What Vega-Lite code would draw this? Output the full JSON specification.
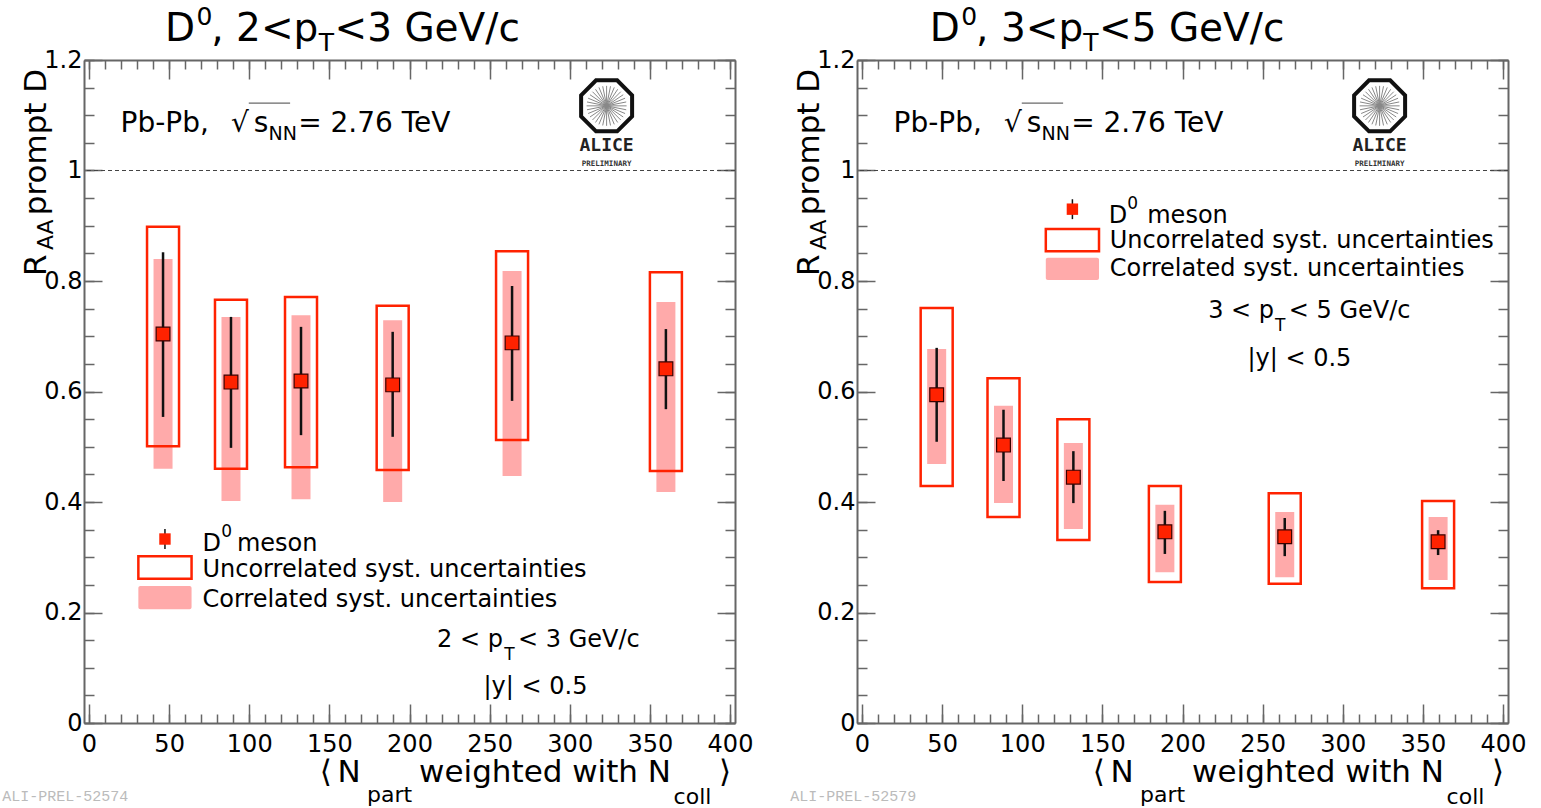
{
  "$schema": "https://vega.github.io/schema/vega-lite/v6.json",
  "background": "white",
  "padding": {"left": 2, "top": 5, "right": 0, "bottom": 0},
  "config": {"view": {"stroke": null}, "font": "DejaVu Sans"},
  "datasets": {
    "L_pts": [
      {"npart": 46.2, "raa": 0.704, "stat_lo": 0.554, "stat_hi": 0.852, "unc_lo": 0.501, "unc_hi": 0.898, "cor_lo": 0.460, "cor_hi": 0.840},
      {"npart": 88.6, "raa": 0.617, "stat_lo": 0.498, "stat_hi": 0.735, "unc_lo": 0.460, "unc_hi": 0.766, "cor_lo": 0.402, "cor_hi": 0.735},
      {"npart": 132.3, "raa": 0.619, "stat_lo": 0.521, "stat_hi": 0.717, "unc_lo": 0.463, "unc_hi": 0.771, "cor_lo": 0.405, "cor_hi": 0.738},
      {"npart": 189.5, "raa": 0.612, "stat_lo": 0.518, "stat_hi": 0.708, "unc_lo": 0.458, "unc_hi": 0.755, "cor_lo": 0.400, "cor_hi": 0.729},
      {"npart": 264.0, "raa": 0.688, "stat_lo": 0.583, "stat_hi": 0.791, "unc_lo": 0.512, "unc_hi": 0.854, "cor_lo": 0.447, "cor_hi": 0.818},
      {"npart": 360.0, "raa": 0.641, "stat_lo": 0.568, "stat_hi": 0.713, "unc_lo": 0.456, "unc_hi": 0.816, "cor_lo": 0.418, "cor_hi": 0.762}
    ],
    "R_pts": [
      {"npart": 46.6, "raa": 0.594, "stat_lo": 0.509, "stat_hi": 0.679, "unc_lo": 0.429, "unc_hi": 0.751, "cor_lo": 0.469, "cor_hi": 0.677},
      {"npart": 88.3, "raa": 0.503, "stat_lo": 0.438, "stat_hi": 0.567, "unc_lo": 0.373, "unc_hi": 0.624, "cor_lo": 0.398, "cor_hi": 0.574},
      {"npart": 131.9, "raa": 0.445, "stat_lo": 0.398, "stat_hi": 0.492, "unc_lo": 0.331, "unc_hi": 0.550, "cor_lo": 0.351, "cor_hi": 0.507},
      {"npart": 189.0, "raa": 0.346, "stat_lo": 0.306, "stat_hi": 0.384, "unc_lo": 0.255, "unc_hi": 0.429, "cor_lo": 0.273, "cor_hi": 0.395},
      {"npart": 263.8, "raa": 0.337, "stat_lo": 0.302, "stat_hi": 0.371, "unc_lo": 0.252, "unc_hi": 0.416, "cor_lo": 0.264, "cor_hi": 0.382},
      {"npart": 359.5, "raa": 0.328, "stat_lo": 0.304, "stat_hi": 0.349, "unc_lo": 0.244, "unc_hi": 0.402, "cor_lo": 0.259, "cor_hi": 0.373}
    ],
    "pb": [
      {"t": "Pb-Pb, ", "x": 19.7, "y": 1.070},
      {"t": "√", "x": 88.6, "y": 1.070},
      {"t": "s", "x": 102.8, "y": 1.070},
      {"t": "= 2.76 TeV", "x": 130.5, "y": 1.070}
    ],
    "pbs": [
      {"t": "NN", "x": 112, "y": 1.055}
    ],
    "over": [{"x1": 99.7, "x2": 125.5, "y": 1.122}],
    "L_txt": [
      {"t": "D", "x": 70.8, "y": 0.311},
      {"t": "meson", "x": 92.3, "y": 0.311},
      {"t": "Uncorrelated syst. uncertainties", "x": 70.8, "y": 0.264},
      {"t": "Correlated syst. uncertainties", "x": 70.8, "y": 0.210},
      {"t": "2 < p", "x": 217.2, "y": 0.1376},
      {"t": "< 3 GeV/c", "x": 267.7, "y": 0.1376},
      {"t": "|y| < 0.5", "x": 246.2, "y": 0.0525}
    ],
    "R_txt": [
      {"t": "D", "x": 154.0, "y": 0.905},
      {"t": "meson", "x": 178.0, "y": 0.905},
      {"t": "Uncorrelated syst. uncertainties", "x": 154.6, "y": 0.860},
      {"t": "Correlated syst. uncertainties", "x": 154.6, "y": 0.809},
      {"t": "3 < p", "x": 216.0, "y": 0.733},
      {"t": "< 5 GeV/c", "x": 266.3, "y": 0.733},
      {"t": "|y| < 0.5", "x": 240.5, "y": 0.646}
    ],
    "L_sml": [
      {"t": "0", "x": 82.5, "y": 0.337},
      {"t": "T", "x": 259.1, "y": 0.114}
    ],
    "R_sml": [
      {"t": "0", "x": 165.6, "y": 0.930},
      {"t": "T", "x": 257.7, "y": 0.7095}
    ],
    "L_ttl": [
      {"t": "D", "x": 47.4, "y": 1.234},
      {"t": ", 2<p", "x": 76.3, "y": 1.234},
      {"t": "<3 GeV/c", "x": 153.2, "y": 1.234}
    ],
    "R_ttl": [
      {"t": "D", "x": 42.3, "y": 1.234},
      {"t": ", 3<p", "x": 71.2, "y": 1.234},
      {"t": "<5 GeV/c", "x": 147.9, "y": 1.234}
    ],
    "L_tts": [
      {"t": "0", "x": 67.1, "y": 1.263},
      {"t": "T", "x": 143.4, "y": 1.216}
    ],
    "R_tts": [
      {"t": "0", "x": 62.0, "y": 1.263},
      {"t": "T", "x": 138.0, "y": 1.216}
    ],
    "axt": [
      {"t": "⟨", "x": 144, "y": -0.1068},
      {"t": "N", "x": 155.1, "y": -0.1068},
      {"t": "weighted with N", "x": 206, "y": -0.1068},
      {"t": "⟩", "x": 393.2, "y": -0.1068}
    ],
    "axs": [
      {"t": "part", "x": 173.5, "y": -0.143},
      {"t": "coll", "x": 364.8, "y": -0.1466}
    ],
    "ayt": [
      {"t": "R", "x": -27.1, "y": 0.809},
      {"t": "prompt D", "x": -27.1, "y": 0.919}
    ],
    "ays": [
      {"t": "AA", "x": -22.2, "y": 0.856}
    ],
    "L_leg": [{"x": 47.4, "y": 0.333, "lo": 0.315, "hi": 0.351}],
    "R_leg": [{"x": 131.3, "y": 0.930, "lo": 0.912, "hi": 0.948}],
    "L_ubox": [{"x1": 30.8, "x2": 64.0, "y1": 0.261, "y2": 0.302}],
    "L_cbox": [{"x1": 30.8, "x2": 64.0, "y1": 0.206, "y2": 0.248}],
    "R_ubox": [{"x1": 114.7, "x2": 147.9, "y1": 0.854, "y2": 0.894}],
    "R_cbox": [{"x1": 114.7, "x2": 147.9, "y1": 0.802, "y2": 0.842}],
    "logo": [{"x": 323, "y": 1.117}],
    "alice": [{"t": "ALICE", "x": 323, "y": 1.035}],
    "prelim": [{"t": "PRELIMINARY", "x": 323, "y": 1.008}],
    "L_ali": [{"t": "ALI-PREL-52574", "x": -54.2, "y": -0.142}],
    "R_ali": [{"t": "ALI-PREL-52579", "x": -44.8, "y": -0.142}],
    "one": [{"v": 1}]
  },
  "hconcat": [
    {
      "width": 651, "height": 663,
      "resolve": {"axis": {"x": "independent", "y": "independent"}},
      "layer": [
        {"data": {"name": "L_pts"}, "mark": {"type": "bar", "width": 19, "fill": "#ffaaaa"},
         "encoding": {
           "x": {"field": "npart", "type": "quantitative", "scale": {"domain": [0, 400], "nice": false, "zero": false},
                 "axis": {"orient": "bottom", "values": [0, 50, 100, 150, 200, 250, 300, 350, 400], "tickSize": -19, "tickWidth": 1.5, "tickColor": "#666", "domainColor": "#666", "domainWidth": 2, "labelFontSize": 24, "labelFont": "DejaVu Sans", "labelColor": "#000", "labelPadding": 28, "labelFlush": false, "labelOverlap": false, "grid": false, "title": null}},
           "y": {"field": "cor_lo", "type": "quantitative", "scale": {"domain": [0, 1.2], "nice": false, "zero": false},
                 "axis": {"orient": "left", "values": [0, 0.2, 0.4, 0.6, 0.8, 1, 1.2], "labelExpr": "'' + datum.value", "tickSize": -18, "tickWidth": 1.5, "tickColor": "#666", "domainColor": "#666", "domainWidth": 2, "labelFontSize": 24, "labelFont": "DejaVu Sans", "labelColor": "#000", "labelPadding": 20, "labelFlush": false, "labelOverlap": false, "grid": false, "title": null}},
           "y2": {"field": "cor_hi"}}},
        {"data": {"name": "L_pts"}, "mark": {"type": "bar", "width": 32, "fill": "white", "fillOpacity": 0, "stroke": "#ff2200", "strokeWidth": 2.5},
         "encoding": {
           "x": {"field": "npart", "type": "quantitative",
                 "axis": {"orient": "bottom", "values": [0,10,20,30,40,50,60,70,80,90,100,110,120,130,140,150,160,170,180,190,200,210,220,230,240,250,260,270,280,290,300,310,320,330,340,350,360,370,380,390,400], "tickSize": -9, "tickWidth": 1.5, "tickColor": "#666", "domain": false, "labels": false, "grid": false, "title": null}},
           "y": {"field": "unc_lo", "type": "quantitative",
                 "axis": {"orient": "left", "values": [0,0.05,0.1,0.15,0.2,0.25,0.3,0.35,0.4,0.45,0.5,0.55,0.6,0.65,0.7,0.75,0.8,0.85,0.9,0.95,1,1.05,1.1,1.15,1.2], "tickSize": -10, "tickWidth": 1.5, "tickColor": "#666", "domain": false, "labels": false, "grid": false, "title": null}},
           "y2": {"field": "unc_hi"}}},
        {"data": {"name": "L_pts"}, "mark": {"type": "rule", "color": "#111", "strokeWidth": 2.5},
         "encoding": {
           "x": {"field": "npart", "type": "quantitative",
                 "axis": {"orient": "top", "values": [0, 50, 100, 150, 200, 250, 300, 350, 400], "tickSize": -19, "tickWidth": 1.5, "tickColor": "#666", "domainColor": "#666", "domainWidth": 2, "labels": false, "grid": false, "title": null}},
           "y": {"field": "stat_lo", "type": "quantitative",
                 "axis": {"orient": "right", "values": [0, 0.2, 0.4, 0.6, 0.8, 1, 1.2], "tickSize": -18, "tickWidth": 1.5, "tickColor": "#666", "domainColor": "#666", "domainWidth": 2, "labels": false, "grid": false, "title": null}},
           "y2": {"field": "stat_hi"}}},
        {"data": {"name": "L_pts"}, "mark": {"type": "point", "shape": "square", "filled": true, "fill": "#ff2200", "stroke": "#3a0000", "strokeWidth": 1.2, "size": 190, "opacity": 1},
         "encoding": {
           "x": {"field": "npart", "type": "quantitative",
                 "axis": {"orient": "top", "values": [0,10,20,30,40,50,60,70,80,90,100,110,120,130,140,150,160,170,180,190,200,210,220,230,240,250,260,270,280,290,300,310,320,330,340,350,360,370,380,390,400], "tickSize": -9, "tickWidth": 1.5, "tickColor": "#666", "domain": false, "labels": false, "grid": false, "title": null}},
           "y": {"field": "raa", "type": "quantitative",
                 "axis": {"orient": "right", "values": [0,0.05,0.1,0.15,0.2,0.25,0.3,0.35,0.4,0.45,0.5,0.55,0.6,0.65,0.7,0.75,0.8,0.85,0.9,0.95,1,1.05,1.1,1.15,1.2], "tickSize": -10, "tickWidth": 1.5, "tickColor": "#666", "domain": false, "labels": false, "grid": false, "title": null}}}},
        {"data": {"name": "one"}, "mark": {"type": "rule", "color": "#444", "strokeWidth": 1, "strokeDash": [4, 3]},
         "encoding": {"y": {"field": "v", "type": "quantitative", "axis": null}}},
        {"data": {"name": "L_ubox"}, "mark": {"type": "bar", "fill": "white", "fillOpacity": 0, "stroke": "#ff2200", "strokeWidth": 2.5},
         "encoding": {"x": {"field": "x1", "type": "quantitative", "axis": null}, "x2": {"field": "x2"}, "y": {"field": "y1", "type": "quantitative", "axis": null}, "y2": {"field": "y2"}}},
        {"data": {"name": "L_cbox"}, "mark": {"type": "bar", "fill": "#ffaaaa", "cornerRadius": 2},
         "encoding": {"x": {"field": "x1", "type": "quantitative", "axis": null}, "x2": {"field": "x2"}, "y": {"field": "y1", "type": "quantitative", "axis": null}, "y2": {"field": "y2"}}},
        {"data": {"name": "L_leg"}, "mark": {"type": "rule", "color": "#111", "strokeWidth": 1.5},
         "encoding": {"x": {"field": "x", "type": "quantitative", "axis": null}, "y": {"field": "lo", "type": "quantitative", "axis": null}, "y2": {"field": "hi"}}},
        {"data": {"name": "L_leg"}, "mark": {"type": "point", "shape": "square", "filled": true, "fill": "#ff2200", "opacity": 1, "size": 130},
         "encoding": {"x": {"field": "x", "type": "quantitative", "axis": null}, "y": {"field": "y", "type": "quantitative", "axis": null}}},
        {"data": {"name": "pb"}, "mark": {"type": "text", "align": "left", "baseline": "alphabetic", "font": "DejaVu Sans", "fontSize": 28, "color": "#000"},
         "encoding": {"x": {"field": "x", "type": "quantitative", "axis": null}, "y": {"field": "y", "type": "quantitative", "axis": null}, "text": {"field": "t"}}},
        {"data": {"name": "pbs"}, "mark": {"type": "text", "align": "left", "baseline": "alphabetic", "font": "DejaVu Sans", "fontSize": 19, "color": "#000"},
         "encoding": {"x": {"field": "x", "type": "quantitative", "axis": null}, "y": {"field": "y", "type": "quantitative", "axis": null}, "text": {"field": "t"}}},
        {"data": {"name": "over"}, "mark": {"type": "rule", "color": "#444", "strokeWidth": 1},
         "encoding": {"x": {"field": "x1", "type": "quantitative", "axis": null}, "x2": {"field": "x2"}, "y": {"field": "y", "type": "quantitative", "axis": null}}},
        {"data": {"name": "L_txt"}, "mark": {"type": "text", "align": "left", "baseline": "alphabetic", "font": "DejaVu Sans", "fontSize": 24, "color": "#000"},
         "encoding": {"x": {"field": "x", "type": "quantitative", "axis": null}, "y": {"field": "y", "type": "quantitative", "axis": null}, "text": {"field": "t"}}},
        {"data": {"name": "L_sml"}, "mark": {"type": "text", "align": "left", "baseline": "alphabetic", "font": "DejaVu Sans", "fontSize": 17, "color": "#000"},
         "encoding": {"x": {"field": "x", "type": "quantitative", "axis": null}, "y": {"field": "y", "type": "quantitative", "axis": null}, "text": {"field": "t"}}},
        {"data": {"name": "L_ttl"}, "mark": {"type": "text", "align": "left", "baseline": "alphabetic", "font": "DejaVu Sans", "fontSize": 39, "color": "#000"},
         "encoding": {"x": {"field": "x", "type": "quantitative", "axis": null}, "y": {"field": "y", "type": "quantitative", "axis": null}, "text": {"field": "t"}}},
        {"data": {"name": "L_tts"}, "mark": {"type": "text", "align": "left", "baseline": "alphabetic", "font": "DejaVu Sans", "fontSize": 25, "color": "#000"},
         "encoding": {"x": {"field": "x", "type": "quantitative", "axis": null}, "y": {"field": "y", "type": "quantitative", "axis": null}, "text": {"field": "t"}}},
        {"data": {"name": "axt"}, "mark": {"type": "text", "align": "left", "baseline": "alphabetic", "font": "DejaVu Sans", "fontSize": 31, "color": "#000"},
         "encoding": {"x": {"field": "x", "type": "quantitative", "axis": null}, "y": {"field": "y", "type": "quantitative", "axis": null}, "text": {"field": "t"}}},
        {"data": {"name": "axs"}, "mark": {"type": "text", "align": "left", "baseline": "alphabetic", "font": "DejaVu Sans", "fontSize": 22, "color": "#000"},
         "encoding": {"x": {"field": "x", "type": "quantitative", "axis": null}, "y": {"field": "y", "type": "quantitative", "axis": null}, "text": {"field": "t"}}},
        {"data": {"name": "ayt"}, "mark": {"type": "text", "align": "left", "baseline": "alphabetic", "angle": 270, "font": "DejaVu Sans", "fontSize": 31, "color": "#000"},
         "encoding": {"x": {"field": "x", "type": "quantitative", "axis": null}, "y": {"field": "y", "type": "quantitative", "axis": null}, "text": {"field": "t"}}},
        {"data": {"name": "ays"}, "mark": {"type": "text", "align": "left", "baseline": "alphabetic", "angle": 270, "font": "DejaVu Sans", "fontSize": 22, "color": "#000"},
         "encoding": {"x": {"field": "x", "type": "quantitative", "axis": null}, "y": {"field": "y", "type": "quantitative", "axis": null}, "text": {"field": "t"}}},
        {"data": {"name": "logo"}, "mark": {"type": "point", "shape": "M-0.98,0.195L0.98,-0.195M-0.924,0.383L0.924,-0.383M-0.831,0.556L0.831,-0.556M-0.707,0.707L0.707,-0.707M-0.556,0.831L0.556,-0.831M-0.383,0.924L0.383,-0.924M-0.195,0.98L0.195,-0.98M0,1L0,-1M0.195,0.98L-0.195,-0.98M0.383,0.924L-0.383,-0.924M0.556,0.831L-0.556,-0.831M0.707,0.707L-0.707,-0.707M0.831,0.556L-0.831,-0.556M0.924,0.383L-0.924,-0.383M0.98,0.195L-0.98,-0.195M1,0L-1,0", "filled": false, "stroke": "#888", "strokeWidth": 1, "size": 1600, "opacity": 1},
         "encoding": {"x": {"field": "x", "type": "quantitative", "axis": null}, "y": {"field": "y", "type": "quantitative", "axis": null}}},
        {"data": {"name": "logo"}, "mark": {"type": "point", "shape": "M1,0.414L0.414,1L-0.414,1L-1,0.414L-1,-0.414L-0.414,-1L0.414,-1L1,-0.414Z", "filled": false, "stroke": "#111", "strokeWidth": 4, "size": 2600, "opacity": 1},
         "encoding": {"x": {"field": "x", "type": "quantitative", "axis": null}, "y": {"field": "y", "type": "quantitative", "axis": null}}},
        {"data": {"name": "alice"}, "mark": {"type": "text", "align": "center", "baseline": "alphabetic", "font": "DejaVu Sans Mono", "fontWeight": "bold", "fontSize": 18, "color": "#222"},
         "encoding": {"x": {"field": "x", "type": "quantitative", "axis": null}, "y": {"field": "y", "type": "quantitative", "axis": null}, "text": {"field": "t"}}},
        {"data": {"name": "prelim"}, "mark": {"type": "text", "align": "center", "baseline": "alphabetic", "font": "DejaVu Sans Mono", "fontWeight": "bold", "fontSize": 7.5, "color": "#333"},
         "encoding": {"x": {"field": "x", "type": "quantitative", "axis": null}, "y": {"field": "y", "type": "quantitative", "axis": null}, "text": {"field": "t"}}},
        {"data": {"name": "L_ali"}, "mark": {"type": "text", "align": "left", "baseline": "alphabetic", "font": "Liberation Mono", "fontSize": 15, "color": "#bbb"},
         "encoding": {"x": {"field": "x", "type": "quantitative", "axis": null}, "y": {"field": "y", "type": "quantitative", "axis": null}, "text": {"field": "t"}}}
      ]
    },
    {
      "width": 651, "height": 663,
      "resolve": {"axis": {"x": "independent", "y": "independent"}},
      "layer": [
        {"data": {"name": "R_pts"}, "mark": {"type": "bar", "width": 19, "fill": "#ffaaaa"},
         "encoding": {
           "x": {"field": "npart", "type": "quantitative", "scale": {"domain": [0, 400], "nice": false, "zero": false},
                 "axis": {"orient": "bottom", "values": [0, 50, 100, 150, 200, 250, 300, 350, 400], "tickSize": -19, "tickWidth": 1.5, "tickColor": "#666", "domainColor": "#666", "domainWidth": 2, "labelFontSize": 24, "labelFont": "DejaVu Sans", "labelColor": "#000", "labelPadding": 28, "labelFlush": false, "labelOverlap": false, "grid": false, "title": null}},
           "y": {"field": "cor_lo", "type": "quantitative", "scale": {"domain": [0, 1.2], "nice": false, "zero": false},
                 "axis": {"orient": "left", "values": [0, 0.2, 0.4, 0.6, 0.8, 1, 1.2], "labelExpr": "'' + datum.value", "tickSize": -18, "tickWidth": 1.5, "tickColor": "#666", "domainColor": "#666", "domainWidth": 2, "labelFontSize": 24, "labelFont": "DejaVu Sans", "labelColor": "#000", "labelPadding": 20, "labelFlush": false, "labelOverlap": false, "grid": false, "title": null}},
           "y2": {"field": "cor_hi"}}},
        {"data": {"name": "R_pts"}, "mark": {"type": "bar", "width": 32, "fill": "white", "fillOpacity": 0, "stroke": "#ff2200", "strokeWidth": 2.5},
         "encoding": {
           "x": {"field": "npart", "type": "quantitative",
                 "axis": {"orient": "bottom", "values": [0,10,20,30,40,50,60,70,80,90,100,110,120,130,140,150,160,170,180,190,200,210,220,230,240,250,260,270,280,290,300,310,320,330,340,350,360,370,380,390,400], "tickSize": -9, "tickWidth": 1.5, "tickColor": "#666", "domain": false, "labels": false, "grid": false, "title": null}},
           "y": {"field": "unc_lo", "type": "quantitative",
                 "axis": {"orient": "left", "values": [0,0.05,0.1,0.15,0.2,0.25,0.3,0.35,0.4,0.45,0.5,0.55,0.6,0.65,0.7,0.75,0.8,0.85,0.9,0.95,1,1.05,1.1,1.15,1.2], "tickSize": -10, "tickWidth": 1.5, "tickColor": "#666", "domain": false, "labels": false, "grid": false, "title": null}},
           "y2": {"field": "unc_hi"}}},
        {"data": {"name": "R_pts"}, "mark": {"type": "rule", "color": "#111", "strokeWidth": 2.5},
         "encoding": {
           "x": {"field": "npart", "type": "quantitative",
                 "axis": {"orient": "top", "values": [0, 50, 100, 150, 200, 250, 300, 350, 400], "tickSize": -19, "tickWidth": 1.5, "tickColor": "#666", "domainColor": "#666", "domainWidth": 2, "labels": false, "grid": false, "title": null}},
           "y": {"field": "stat_lo", "type": "quantitative",
                 "axis": {"orient": "right", "values": [0, 0.2, 0.4, 0.6, 0.8, 1, 1.2], "tickSize": -18, "tickWidth": 1.5, "tickColor": "#666", "domainColor": "#666", "domainWidth": 2, "labels": false, "grid": false, "title": null}},
           "y2": {"field": "stat_hi"}}},
        {"data": {"name": "R_pts"}, "mark": {"type": "point", "shape": "square", "filled": true, "fill": "#ff2200", "stroke": "#3a0000", "strokeWidth": 1.2, "size": 190, "opacity": 1},
         "encoding": {
           "x": {"field": "npart", "type": "quantitative",
                 "axis": {"orient": "top", "values": [0,10,20,30,40,50,60,70,80,90,100,110,120,130,140,150,160,170,180,190,200,210,220,230,240,250,260,270,280,290,300,310,320,330,340,350,360,370,380,390,400], "tickSize": -9, "tickWidth": 1.5, "tickColor": "#666", "domain": false, "labels": false, "grid": false, "title": null}},
           "y": {"field": "raa", "type": "quantitative",
                 "axis": {"orient": "right", "values": [0,0.05,0.1,0.15,0.2,0.25,0.3,0.35,0.4,0.45,0.5,0.55,0.6,0.65,0.7,0.75,0.8,0.85,0.9,0.95,1,1.05,1.1,1.15,1.2], "tickSize": -10, "tickWidth": 1.5, "tickColor": "#666", "domain": false, "labels": false, "grid": false, "title": null}}}},
        {"data": {"name": "one"}, "mark": {"type": "rule", "color": "#444", "strokeWidth": 1, "strokeDash": [4, 3]},
         "encoding": {"y": {"field": "v", "type": "quantitative", "axis": null}}},
        {"data": {"name": "R_ubox"}, "mark": {"type": "bar", "fill": "white", "fillOpacity": 0, "stroke": "#ff2200", "strokeWidth": 2.5},
         "encoding": {"x": {"field": "x1", "type": "quantitative", "axis": null}, "x2": {"field": "x2"}, "y": {"field": "y1", "type": "quantitative", "axis": null}, "y2": {"field": "y2"}}},
        {"data": {"name": "R_cbox"}, "mark": {"type": "bar", "fill": "#ffaaaa", "cornerRadius": 2},
         "encoding": {"x": {"field": "x1", "type": "quantitative", "axis": null}, "x2": {"field": "x2"}, "y": {"field": "y1", "type": "quantitative", "axis": null}, "y2": {"field": "y2"}}},
        {"data": {"name": "R_leg"}, "mark": {"type": "rule", "color": "#111", "strokeWidth": 1.5},
         "encoding": {"x": {"field": "x", "type": "quantitative", "axis": null}, "y": {"field": "lo", "type": "quantitative", "axis": null}, "y2": {"field": "hi"}}},
        {"data": {"name": "R_leg"}, "mark": {"type": "point", "shape": "square", "filled": true, "fill": "#ff2200", "opacity": 1, "size": 130},
         "encoding": {"x": {"field": "x", "type": "quantitative", "axis": null}, "y": {"field": "y", "type": "quantitative", "axis": null}}},
        {"data": {"name": "pb"}, "mark": {"type": "text", "align": "left", "baseline": "alphabetic", "font": "DejaVu Sans", "fontSize": 28, "color": "#000"},
         "encoding": {"x": {"field": "x", "type": "quantitative", "axis": null}, "y": {"field": "y", "type": "quantitative", "axis": null}, "text": {"field": "t"}}},
        {"data": {"name": "pbs"}, "mark": {"type": "text", "align": "left", "baseline": "alphabetic", "font": "DejaVu Sans", "fontSize": 19, "color": "#000"},
         "encoding": {"x": {"field": "x", "type": "quantitative", "axis": null}, "y": {"field": "y", "type": "quantitative", "axis": null}, "text": {"field": "t"}}},
        {"data": {"name": "over"}, "mark": {"type": "rule", "color": "#444", "strokeWidth": 1},
         "encoding": {"x": {"field": "x1", "type": "quantitative", "axis": null}, "x2": {"field": "x2"}, "y": {"field": "y", "type": "quantitative", "axis": null}}},
        {"data": {"name": "R_txt"}, "mark": {"type": "text", "align": "left", "baseline": "alphabetic", "font": "DejaVu Sans", "fontSize": 24, "color": "#000"},
         "encoding": {"x": {"field": "x", "type": "quantitative", "axis": null}, "y": {"field": "y", "type": "quantitative", "axis": null}, "text": {"field": "t"}}},
        {"data": {"name": "R_sml"}, "mark": {"type": "text", "align": "left", "baseline": "alphabetic", "font": "DejaVu Sans", "fontSize": 17, "color": "#000"},
         "encoding": {"x": {"field": "x", "type": "quantitative", "axis": null}, "y": {"field": "y", "type": "quantitative", "axis": null}, "text": {"field": "t"}}},
        {"data": {"name": "R_ttl"}, "mark": {"type": "text", "align": "left", "baseline": "alphabetic", "font": "DejaVu Sans", "fontSize": 39, "color": "#000"},
         "encoding": {"x": {"field": "x", "type": "quantitative", "axis": null}, "y": {"field": "y", "type": "quantitative", "axis": null}, "text": {"field": "t"}}},
        {"data": {"name": "R_tts"}, "mark": {"type": "text", "align": "left", "baseline": "alphabetic", "font": "DejaVu Sans", "fontSize": 25, "color": "#000"},
         "encoding": {"x": {"field": "x", "type": "quantitative", "axis": null}, "y": {"field": "y", "type": "quantitative", "axis": null}, "text": {"field": "t"}}},
        {"data": {"name": "axt"}, "mark": {"type": "text", "align": "left", "baseline": "alphabetic", "font": "DejaVu Sans", "fontSize": 31, "color": "#000"},
         "encoding": {"x": {"field": "x", "type": "quantitative", "axis": null}, "y": {"field": "y", "type": "quantitative", "axis": null}, "text": {"field": "t"}}},
        {"data": {"name": "axs"}, "mark": {"type": "text", "align": "left", "baseline": "alphabetic", "font": "DejaVu Sans", "fontSize": 22, "color": "#000"},
         "encoding": {"x": {"field": "x", "type": "quantitative", "axis": null}, "y": {"field": "y", "type": "quantitative", "axis": null}, "text": {"field": "t"}}},
        {"data": {"name": "ayt"}, "mark": {"type": "text", "align": "left", "baseline": "alphabetic", "angle": 270, "font": "DejaVu Sans", "fontSize": 31, "color": "#000"},
         "encoding": {"x": {"field": "x", "type": "quantitative", "axis": null}, "y": {"field": "y", "type": "quantitative", "axis": null}, "text": {"field": "t"}}},
        {"data": {"name": "ays"}, "mark": {"type": "text", "align": "left", "baseline": "alphabetic", "angle": 270, "font": "DejaVu Sans", "fontSize": 22, "color": "#000"},
         "encoding": {"x": {"field": "x", "type": "quantitative", "axis": null}, "y": {"field": "y", "type": "quantitative", "axis": null}, "text": {"field": "t"}}},
        {"data": {"name": "logo"}, "mark": {"type": "point", "shape": "M-0.98,0.195L0.98,-0.195M-0.924,0.383L0.924,-0.383M-0.831,0.556L0.831,-0.556M-0.707,0.707L0.707,-0.707M-0.556,0.831L0.556,-0.831M-0.383,0.924L0.383,-0.924M-0.195,0.98L0.195,-0.98M0,1L0,-1M0.195,0.98L-0.195,-0.98M0.383,0.924L-0.383,-0.924M0.556,0.831L-0.556,-0.831M0.707,0.707L-0.707,-0.707M0.831,0.556L-0.831,-0.556M0.924,0.383L-0.924,-0.383M0.98,0.195L-0.98,-0.195M1,0L-1,0", "filled": false, "stroke": "#888", "strokeWidth": 1, "size": 1600, "opacity": 1},
         "encoding": {"x": {"field": "x", "type": "quantitative", "axis": null}, "y": {"field": "y", "type": "quantitative", "axis": null}}},
        {"data": {"name": "logo"}, "mark": {"type": "point", "shape": "M1,0.414L0.414,1L-0.414,1L-1,0.414L-1,-0.414L-0.414,-1L0.414,-1L1,-0.414Z", "filled": false, "stroke": "#111", "strokeWidth": 4, "size": 2600, "opacity": 1},
         "encoding": {"x": {"field": "x", "type": "quantitative", "axis": null}, "y": {"field": "y", "type": "quantitative", "axis": null}}},
        {"data": {"name": "alice"}, "mark": {"type": "text", "align": "center", "baseline": "alphabetic", "font": "DejaVu Sans Mono", "fontWeight": "bold", "fontSize": 18, "color": "#222"},
         "encoding": {"x": {"field": "x", "type": "quantitative", "axis": null}, "y": {"field": "y", "type": "quantitative", "axis": null}, "text": {"field": "t"}}},
        {"data": {"name": "prelim"}, "mark": {"type": "text", "align": "center", "baseline": "alphabetic", "font": "DejaVu Sans Mono", "fontWeight": "bold", "fontSize": 7.5, "color": "#333"},
         "encoding": {"x": {"field": "x", "type": "quantitative", "axis": null}, "y": {"field": "y", "type": "quantitative", "axis": null}, "text": {"field": "t"}}},
        {"data": {"name": "R_ali"}, "mark": {"type": "text", "align": "left", "baseline": "alphabetic", "font": "Liberation Mono", "fontSize": 15, "color": "#bbb"},
         "encoding": {"x": {"field": "x", "type": "quantitative", "axis": null}, "y": {"field": "y", "type": "quantitative", "axis": null}, "text": {"field": "t"}}}
      ]
    }
  ],
  "spacing": 122,
  "bounds": "flush"
}
